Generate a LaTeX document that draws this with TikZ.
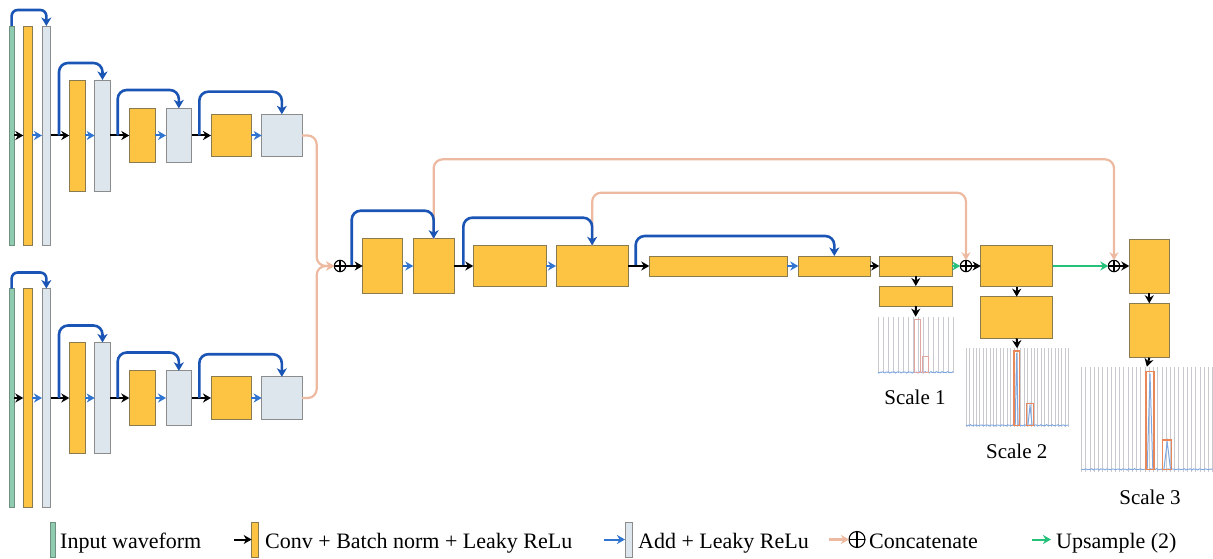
\documentclass[tikz,border=0pt]{standalone}
\usepackage{fontspec}
\setmainfont{Liberation Serif}
\usetikzlibrary{arrows.meta,calc}
\definecolor{cOr}{HTML}{FCC442}
\definecolor{cOrD}{HTML}{8A7A50}
\definecolor{cGy}{HTML}{DCE6EC}
\definecolor{cGyD}{HTML}{8C8C8C}
\definecolor{cGn}{HTML}{8ECBAF}
\definecolor{cGnD}{HTML}{6F8F80}
\definecolor{cBl}{HTML}{1A55B5}
\definecolor{cSb}{HTML}{2F74D0}
\definecolor{cPe}{HTML}{EDB9A0}
\definecolor{cUp}{HTML}{25C07A}
\definecolor{cGrid}{HTML}{C9C9CF}
\definecolor{cBase}{HTML}{7FA7E0}
\definecolor{cSpk}{HTML}{E8875A}
\definecolor{cSpkL}{HTML}{E2A6A0}
\newcommand{\blkbox}[6]{\node[#2, minimum width={(#5-#3)*1pt}, minimum height={(#6-#4)*1pt}] (#1) at ({(#3+#5)/2},{(#4+#6)/2}) {};}
\newcommand{\gridplot}[6]{%
  \foreach \i in {0,...,#5} {\draw[gridl] ({#1+\i*(#2-#1)/#5},#3) -- ({#1+\i*(#2-#1)/#5},#4);}
  \draw[basel] plot[domain=0:(#2-#1), samples=90, smooth] ({#1+\x},{#6+0.8*sin(\x*97)*cos(\x*31)});}
\newcommand{\spike}[4]{%
  \draw[cBase, line width=1pt] (#1+1.2,#4) -- ({(#1+#2)/2},#3+2) -- (#2-1.2,#4);
  \draw[cSpk, line width=1.3pt] (#1,#4) rectangle (#2,#3);}
\newcommand{\spikel}[4]{%
  \draw[cSpkL, line width=0.9pt] (#1,#4) rectangle (#2,#3);}
\newcommand{\encoder}[1]{%
  \blkbox{#1g}{inp}{9.3}{26}{14}{245}
  \blkbox{#1o1}{conv}{23.3}{26}{32.3}{245}
  \blkbox{#1a1}{addb}{42}{26}{50.7}{245}
  \blkbox{#1o2}{conv}{69.3}{80}{85.3}{191}
  \blkbox{#1a2}{addb}{94.7}{80}{110.3}{191}
  \blkbox{#1o3}{conv}{129.3}{108.3}{155.3}{162.7}
  \blkbox{#1a3}{addb}{166}{108.3}{191.7}{162.7}
  \blkbox{#1o4}{conv}{211}{114.3}{251.3}{156.7}
  \blkbox{#1a4}{addb}{261.7}{114.3}{302}{156.7}
  \coordinate (#1s2) at (59,135.5);
  \coordinate (#1s3) at (117.7,135.5);
  \coordinate (#1s4) at (199.3,135.5);
  \draw[fwd] (#1g.east) -- (#1o1.west);
  \draw[fwd] (#1a1.east) -- (#1o2.west);
  \draw[fwd] (#1a2.east) -- (#1o3.west);
  \draw[fwd] (#1a3.east) -- (#1o4.west);
  \draw[sblu] (#1o1.east) -- (#1a1.west);
  \draw[sblu] (#1o2.east) -- (#1a2.west);
  \draw[sblu] (#1o3.east) -- (#1a3.west);
  \draw[sblu] (#1o4.east) -- (#1a4.west);
  \draw[skiparc, rounded corners=6pt] (#1g.north) -- ++(0,-16) -| (#1a1.north);
  \draw[skiparc] (#1s2) -- ++(0,-72.5) -| (#1a2.north);
  \draw[skiparc] (#1s3) -- ++(0,-45.5) -| (#1a3.north);
  \draw[skiparc] (#1s4) -- ++(0,-43.8) -| (#1a4.north);
}
\tikzset{
  box/.style={draw, line width=0.8pt, inner sep=0pt, outer sep=0pt},
  conv/.style={box, fill=cOr, draw=cOrD},
  addb/.style={box, fill=cGy, draw=cGyD},
  inp/.style={box, fill=cGn, draw=cGnD},
  fwd/.style={-{Stealth[length=8pt,width=9pt,inset=2.5pt]}, line width=2pt, black},
  sblu/.style={-{Stealth[length=8pt,width=9pt,inset=2.5pt]}, line width=2pt, cSb},
  skiparc/.style={-{Stealth[length=8.5pt,width=10pt,inset=2.5pt]}, line width=2.6pt, cBl, rounded corners=9pt},
  catl/.style={-{Stealth[length=8pt,width=9pt,inset=2.5pt]}, line width=2.2pt, cPe, rounded corners=9pt},
  upsl/.style={-{Stealth[length=8pt,width=9pt,inset=2.5pt]}, line width=2pt, cUp},
  oplus/.style={circle, draw, line width=1.1pt, minimum size=11.4pt, inner sep=0pt, outer sep=0pt,
    path picture={\draw[line width=1.1pt] (path picture bounding box.north) -- (path picture bounding box.south) (path picture bounding box.west) -- (path picture bounding box.east);}},
  gridl/.style={cGrid, line width=0.6pt},
  basel/.style={cBase, line width=0.9pt},
  plotbox/.style={inner sep=0pt, outer sep=0pt},
  lbl/.style={font=\fontsize{21}{24}\selectfont, inner sep=0pt},
  legt/.style={font=\fontsize{22}{26}\selectfont, inner sep=0pt, anchor=base west},
}
\begin{document}
\begin{tikzpicture}[x=1pt,y=-1pt]
\useasboundingbox (0,0) rectangle (1213,559);
% encoders
\encoder{t}
\begin{scope}[yshift=-262.5pt]
\encoder{b}
\end{scope}
% decoder blocks
\node[oplus] (cat0) at (340,266) {};
\blkbox{A}{conv}{362.7}{238.7}{402.7}{293.3}
\blkbox{B}{conv}{413.3}{238.7}{454}{293.3}
\blkbox{C}{conv}{473.3}{245.3}{546}{286.7}
\blkbox{D}{conv}{556}{245.3}{628.3}{286.7}
\blkbox{E}{conv}{649.3}{256}{787.3}{276}
\blkbox{F}{conv}{798.3}{256}{870.3}{276}
\blkbox{G}{conv}{879.3}{256}{952.3}{276}
\blkbox{H}{conv}{879.3}{286}{952.3}{306}
\node[oplus] (cat1) at (966,266) {};
\blkbox{I}{conv}{980.7}{245.5}{1052.7}{286.5}
\blkbox{J}{conv}{980.7}{296.7}{1052.7}{338.3}
\node[oplus] (cat2) at (1114,266) {};
\blkbox{K}{conv}{1129.3}{239}{1169.3}{293}
\blkbox{L}{conv}{1129.3}{303.3}{1169.3}{357.7}
% plots
\blkbox{p1}{plotbox}{877.3}{316.7}{954}{373.3}
\blkbox{p2}{plotbox}{965}{348.3}{1069.3}{426.7}
\blkbox{p3}{plotbox}{1080.7}{366.7}{1213}{471.7}
\gridplot{878}{953}{316.7}{373.3}{15}{372.3}
\spikel{914}{920}{319}{372.3}
\spikel{922.7}{928.7}{356}{372.3}
\gridplot{966}{1068.5}{348.3}{426.7}{30}{425.3}
\spike{1014}{1019.3}{351}{425.3}
\spike{1026.7}{1033.3}{403.3}{425.3}
\gridplot{1081.5}{1212.5}{366.7}{471.7}{31}{469.3}
\spike{1146}{1154}{371.7}{469.3}
\spike{1162.7}{1171.7}{440}{469.3}
\node[lbl, anchor=base] (sc1) at (915,404.3) {Scale 1};
\node[lbl, anchor=base] (sc2) at (1016.7,458.3) {Scale 2};
\node[lbl, anchor=base] (sc3) at (1150,504.3) {Scale 3};
% concatenation (peach) links
\coordinate (pj) at (316.7,266);
\draw[catl] (ta4.east) -| (pj) -- (cat0.west);
\draw[catl] (ba4.east) -| (pj) -- (cat0.west);
\draw[catl] (B.north) -- ++(0,-79.4) -| (cat2.north);
\draw[catl] (D.north) -- ++(0,-52.6) -| (cat1.north);
% skip arcs
\coordinate (ds0) at (351.7,266);
\coordinate (ds1) at (463.3,266);
\coordinate (ds2) at (635.7,266);
\draw[skiparc] (ds0) -- ++(0,-55.3) -| (B.north);
\draw[skiparc] (ds1) -- ++(0,-48.3) -| (D.north);
\draw[skiparc] (ds2) -- ++(0,-30) -| (F.north);
% forward arrows
\draw[fwd] (cat0.east) -- (A.west);
\draw[sblu] (A.east) -- (B.west);
\draw[fwd] (B.east) -- (C.west);
\draw[sblu] (C.east) -- (D.west);
\draw[fwd] (D.east) -- (E.west);
\draw[sblu] (E.east) -- (F.west);
\draw[fwd] (F.east) -- (G.west);
\draw[upsl] (G.east) -- (cat1.west);
\draw[fwd] (cat1.east) -- (I.west);
\draw[upsl] (I.east) -- (cat2.west);
\draw[fwd] (cat2.east) -- (K.west);
\draw[fwd] (G.south) -- (H.north);
\draw[fwd] (H.south) -- (p1.north);
\draw[fwd] (I.south) -- (J.north);
\draw[fwd] (J.south) -- (p2.north);
\draw[fwd] (K.south) -- (L.north);
\draw[fwd] (L.south) -- (p3.north);
% legend
\blkbox{lgI}{inp}{50}{522}{55}{557}
\node[legt] (lgIt) at (60,548) {Input waveform};
\coordinate (lgCa) at (234,539.5);
\blkbox{lgC}{conv}{251.7}{522}{258.3}{557}
\draw[fwd] (lgCa) -- (lgC.west);
\node[legt] (lgCt) at (265,548) {Conv + Batch norm + Leaky ReLu};
\coordinate (lgAa) at (604,539.5);
\blkbox{lgA}{addb}{625}{522}{632}{557}
\draw[sblu] (lgAa) -- (lgA.west);
\node[legt] (lgAt) at (638,548) {Add + Leaky ReLu};
\coordinate (lgPa) at (829,539.5);
\node[oplus, minimum size=16pt] (lgP) at (857,539.5) {};
\draw[catl] (lgPa) -- (lgP.west);
\node[legt] (lgPt) at (869,548) {Concatenate};
\coordinate (lgUa) at (1032,539.5);
\coordinate (lgUb) at (1051,539.5);
\draw[upsl] (lgUa) -- (lgUb);
\node[legt] (lgUt) at (1056,548) {Upsample (2)};
\end{tikzpicture}
\end{document}
